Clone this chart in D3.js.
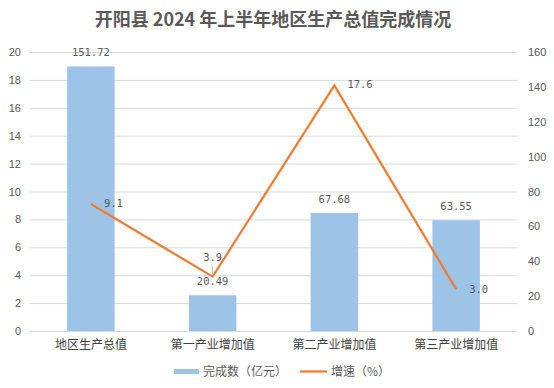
<!DOCTYPE html>
<html><head><meta charset="utf-8">
<script src="https://cdn.jsdelivr.net/npm/d3@7"></script>
<style>body{margin:0;background:#fff}svg{display:block}</style>
</head><body><div id="chart"></div>
<script>
const categories = ["地区生产总值","第一产业增加值","第二产业增加值","第三产业增加值"];
const values = [151.72, 20.49, 67.68, 63.55];
const growth = [9.1, 3.9, 17.6, 3.0];
const valueLabels = ["151.72","20.49","67.68","63.55"];
const growthLabels = ["9.1","3.9","17.6","3.0"];
const leftTicks = [0,2,4,6,8,10,12,14,16,18,20];
const rightTicks = [0,20,40,60,80,100,120,140,160];
const title = "开阳县 2024 年上半年地区生产总值完成情况";
const legendNames = ["完成数（亿元）","增速（%）"];

const W = 554, H = 388;
const m = {left: 30, right: 37, top: 52, bottom: 57};
const svg = d3.select("#chart").append("svg").attr("width", W).attr("height", H);
const x = d3.scaleBand().domain(categories).range([m.left, W - m.right]).paddingInner(0.61).paddingOuter(0.305);
const yL = d3.scaleLinear().domain([0, 20]).range([H - m.bottom, m.top]);
const yR = d3.scaleLinear().domain([0, 160]).range([H - m.bottom, m.top]);
const cx = c => x(c) + x.bandwidth() / 2;
const axisFont = "'Liberation Sans', Arial, sans-serif";
const cjk = "'Noto Sans CJK SC', sans-serif";

svg.append("text").attr("x", 273).attr("y", 26).attr("text-anchor", "middle")
  .attr("font-family", cjk).attr("font-weight", "bold").attr("font-size", 18)
  .attr("fill", "#595959").text(title);

// gridlines
svg.append("g").selectAll("line").data(leftTicks).join("line")
  .attr("x1", m.left).attr("x2", W - m.right)
  .attr("y1", d => yL(d) + 0.5).attr("y2", d => yL(d) + 0.5)
  .attr("stroke", "#d9d9d9").attr("stroke-width", 1);

// left axis
const gl = svg.append("g").attr("transform", `translate(${m.left},0)`)
  .call(d3.axisLeft(yL).tickValues(leftTicks).tickSize(0).tickPadding(9));
gl.select(".domain").remove();
gl.selectAll("text").attr("font-family", axisFont).attr("font-size", 11).attr("fill", "#595959");

// right axis
const gr = svg.append("g").attr("transform", `translate(${W - m.right},0)`)
  .call(d3.axisRight(yR).tickValues(rightTicks).tickSize(0).tickPadding(11));
gr.select(".domain").remove();
gr.selectAll("text").attr("font-family", axisFont).attr("font-size", 11).attr("fill", "#595959");

// bars
svg.append("g").selectAll("rect").data(values).join("rect")
  .attr("x", (d, i) => x(categories[i])).attr("width", x.bandwidth())
  .attr("y", d => yR(d)).attr("height", d => yR(0) - yR(d))
  .attr("fill", "#9dc3e6");

// bottom axis
const gb = svg.append("g").attr("transform", `translate(0,${H - m.bottom})`)
  .call(d3.axisBottom(x).tickSize(0).tickPadding(9));
gb.select(".domain").attr("stroke", "#d9d9d9").attr("stroke-width", 1);
gb.selectAll("text").attr("font-family", cjk).attr("font-size", 12).attr("fill", "#404040");

// bar labels
svg.append("g").selectAll("text").data(values).join("text")
  .attr("x", (d, i) => cx(categories[i])).attr("y", d => yR(d) - 10)
  .attr("text-anchor", "middle").attr("font-family", "'DejaVu Sans Mono', monospace")
  .attr("font-size", 10.5).attr("fill", "#595959").text((d, i) => valueLabels[i]);

// line
const line = d3.line().x((d, i) => cx(categories[i])).y(d => yL(d));
svg.append("path").datum(growth).attr("d", line).attr("fill", "none")
  .attr("stroke", "#ed7d31").attr("stroke-width", 2.25).attr("stroke-linejoin", "miter");

// line labels
const offs = [[13, 3, "start"], [0, -16, "middle"], [13, 3, "start"], [13, 4, "start"]];
svg.append("g").selectAll("text").data(growth).join("text")
  .attr("x", (d, i) => cx(categories[i]) + offs[i][0])
  .attr("y", (d, i) => yL(d) + offs[i][1])
  .attr("text-anchor", (d, i) => offs[i][2])
  .attr("font-family", "'DejaVu Sans Mono', monospace")
  .attr("font-size", 10.5).attr("fill", "#595959").text((d, i) => growthLabels[i]);
// leader for 3.9
svg.append("line").attr("x1", cx(categories[1])).attr("x2", cx(categories[1]))
  .attr("y1", yL(growth[1]) - 11).attr("y2", yL(growth[1]) - 2)
  .attr("stroke", "#a6a6a6").attr("stroke-width", 0.8);

// legend
const lg = svg.append("g");
lg.append("rect").attr("x", 174).attr("y", 369).attr("width", 25).attr("height", 5).attr("fill", "#9dc3e6");
lg.append("text").attr("x", 203).attr("y", 376).attr("font-family", cjk).attr("font-size", 12)
  .attr("fill", "#595959").text(legendNames[0]);
lg.append("line").attr("x1", 300).attr("x2", 327).attr("y1", 371.5).attr("y2", 371.5)
  .attr("stroke", "#ed7d31").attr("stroke-width", 2.25);
lg.append("text").attr("x", 331).attr("y", 376).attr("font-family", cjk).attr("font-size", 12)
  .attr("fill", "#595959").text(legendNames[1]);
</script></body></html>
